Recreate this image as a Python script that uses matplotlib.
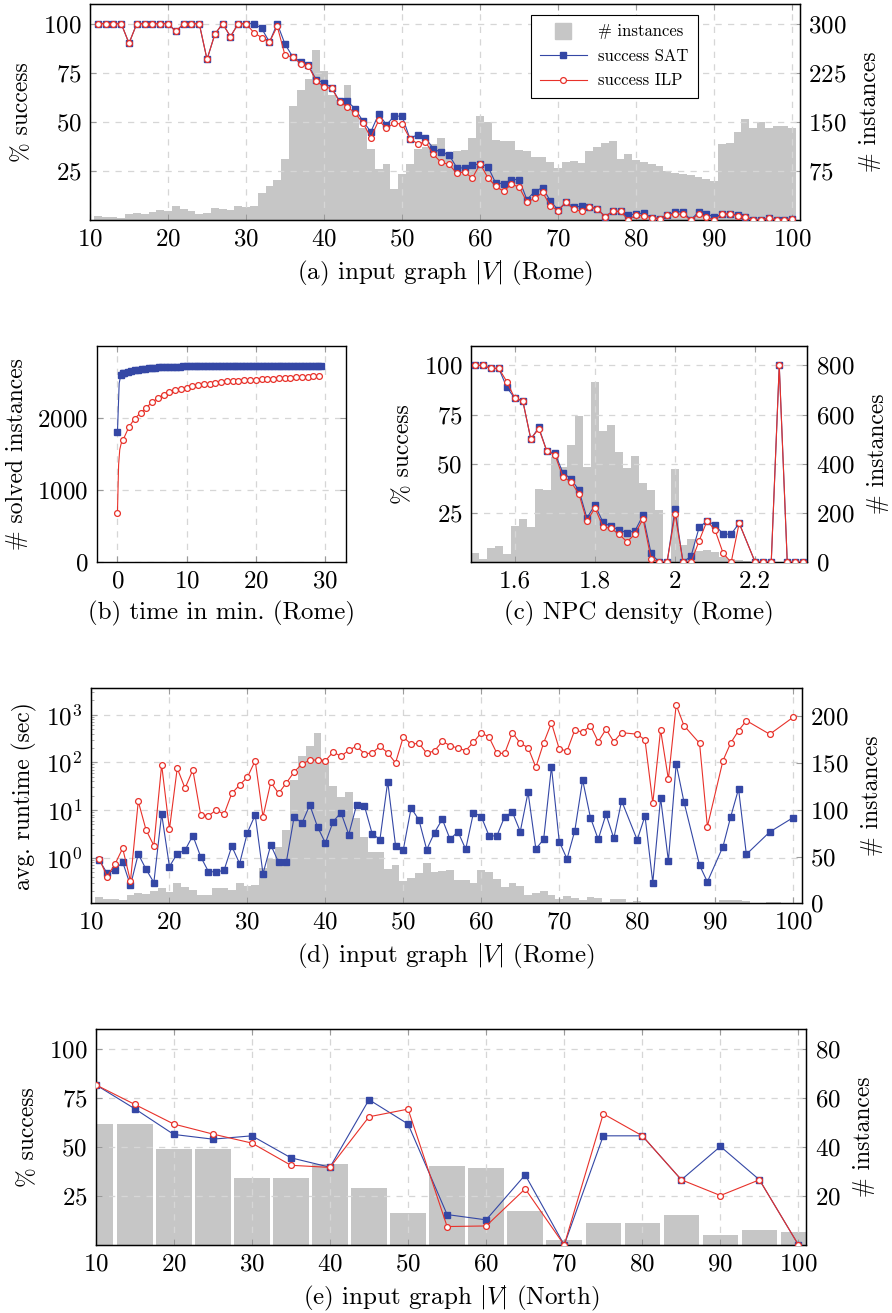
import numpy as np
import matplotlib
matplotlib.use('Agg')
import matplotlib.pyplot as plt
from matplotlib.lines import Line2D
from matplotlib.ticker import LogFormatterMathtext, LogLocator, NullFormatter

plt.rcParams['font.family'] = 'cmr10'
plt.rcParams['mathtext.fontset'] = 'cm'
plt.rcParams['axes.formatter.use_mathtext'] = True
plt.rcParams['font.size'] = 16

BLUE = '#3447a5'
RED = '#e8312a'
GREY = '#c6c6c6'
GRIDC = '#d6d6d6'
TICKFS = 18
LABFS = 17
CAPFS = 18

# ---------------- (a) success vs |V| (Rome) ----------------
a_x = list(range(11, 101))
a_sat = [100, 100, 100, 100, 90, 100, 100, 100, 100, 100,
         96, 100, 100, 100, 81.8, 94.6, 100, 93.4, 100, 100,
         100, 97.6, 90.6, 100, 89.5, 83, 80.6, 78.9, 71.3, 70,
         67.2, 60.4, 60.4, 56.6, 50.2, 44.9, 54, 48.5, 52.9, 52.9,
         41.5, 43.5, 41.8, 36.4, 34.4, 33.3, 26.7, 26.4, 27.9, 28.6,
         27.2, 18.8, 18.5, 20.6, 20.6, 10.4, 14.5, 16.5, 9.7, 5.1,
         9, 6.6, 7, 6.5, 5.8, 1.7, 4.4, 4.4, 2.4, 3.2,
         3.4, 1.2, 0.7, 2.4, 4.1, 4.3, 0, 4.1, 3.2, 1.5,
         2.9, 3.2, 2.6, 1.7, 0, 0, 1, 0, 0, 0.7]
a_ilp = [100, 100, 100, 100, 90, 100, 100, 100, 100, 100,
         96, 100, 100, 100, 81.8, 94.6, 100, 93.4, 100, 100,
         95.4, 92.9, 90.6, 98.6, 83.8, 83, 79.6, 78.2, 70.9, 67.7,
         67, 60, 57.7, 54.3, 49.3, 42, 50.7, 46.8, 49.3, 48.8,
         41.5, 38.8, 39.8, 33.5, 29.3, 28.4, 23.8, 24.5, 21.3, 28.6,
         21.5, 17.2, 14.6, 18.2, 16.8, 9.2, 11, 14.1, 7.3, 4.8,
         9, 5.4, 4.4, 6.5, 5.8, 1.7, 4.4, 4.4, 0, 2.7,
         2, 1.2, 0.7, 2.4, 2.9, 2.9, 0, 2.9, 1.5, 0,
         2.9, 3.2, 2, 1.7, 0, 0, 1, 0, 0, 0.7]
a_hist = [6.6, 4, 5, 2.5, 9.7, 11, 9, 12.8, 16, 13,
          22, 17, 14, 9, 11, 18, 17, 15, 21, 20,
          21, 42, 52, 61, 93, 174, 199, 216, 259, 227,
          191, 183, 206, 166, 140, 109, 78, 85, 48, 70,
          85, 108, 112, 116, 126, 104, 106, 107, 126, 159,
          149, 122, 120, 120, 107, 106, 97, 97, 88, 79,
          89, 90, 87, 106, 111, 117, 120, 93, 101, 92,
          88, 86, 82, 75, 72, 70, 69, 66, 63, 59,
          116, 118, 135, 154, 141, 149, 140, 143, 144, 140]

# ---------------- (b) solved instances over time ----------------
b_sat_sec = [0, 15, 30, 45] + list(range(60, 1771, 30))
b_sat = [1800, 2480, 2600, 2615, 2625, 2640, 2652, 2662, 2670, 2677,
         2683, 2688, 2692, 2696, 2699, 2702, 2704, 2706, 2708, 2710,
         2711, 2712, 2713, 2714, 2714, 2715, 2715, 2716, 2716, 2717,
         2717, 2718, 2718, 2718, 2719, 2719, 2719, 2720, 2720, 2720,
         2721, 2721, 2721, 2721, 2722, 2722, 2722, 2722, 2723, 2723,
         2723, 2723, 2723, 2724, 2724, 2724, 2724, 2724, 2725, 2725,
         2725, 2725]
b_ilp_sec = [0, 10, 20, 30, 40, 50] + list(range(100, 1751, 50))
b_ilp = [687, 1350, 1560, 1630, 1680, 1700, 1876, 1991, 2069, 2143,
         2217, 2276, 2323, 2355, 2382, 2401, 2419, 2438, 2452, 2465,
         2475, 2488, 2498, 2507, 2512, 2516, 2521, 2525, 2530, 2535,
         2539, 2544, 2548, 2553, 2558, 2562, 2567, 2571, 2576, 2585]

# ---------------- (c) NPC density ----------------
c_x = [1.50, 1.52, 1.54, 1.56, 1.58, 1.60, 1.62, 1.64, 1.66, 1.68,
       1.70, 1.72, 1.74, 1.76, 1.78, 1.80, 1.82, 1.84, 1.86, 1.88,
       1.90, 1.92, 1.94, 1.96, 1.98, 2.00, 2.02, 2.04, 2.06, 2.08,
       2.10, 2.12, 2.14, 2.16, 2.20, 2.22, 2.24, 2.26, 2.28, 2.30, 2.32]
c_sat = [100, 100, 98.5, 98.5, 88.9, 83.3, 82, 62.5, 68.5, 56.4,
         55.5, 45.5, 42.4, 36.6, 22.5, 29.1, 20.4, 18.2, 16.5, 15,
         16, 23.9, 4.6, 0, 0, 26.9, 0, 3.2, 17.7, 21,
         18.9, 14.3, 14.3, 19.9, 0, 0, 0, 100, 0, 0, 0]
c_ilp = [100, 100, 98.5, 98.5, 91.8, 83.3, 82, 62.7, 67.8, 56.4,
         54.7, 43.4, 40.9, 34.8, 20.8, 27.6, 18.1, 17.2, 14.3, 10.4,
         14.3, 22.1, 1.9, 0, 0, 24.5, 0, 0, 10.9, 21.1,
         16.2, 4.6, 0, 19.9, 0, 0, 0, 100, 0, 0, 0]
c_hist_x = [1.50, 1.52, 1.54, 1.56, 1.58, 1.60, 1.62, 1.64, 1.66, 1.68,
            1.70, 1.72, 1.74, 1.76, 1.78, 1.80, 1.82, 1.84, 1.86, 1.88,
            1.90, 1.92, 1.94, 1.96, 1.98, 2.00, 2.02, 2.04, 2.06, 2.08,
            2.10, 2.12, 2.14, 2.16, 2.18, 2.20]
c_hist = [38, 12, 59, 65, 35, 147, 174, 144, 297, 293,
          428, 386, 477, 594, 388, 731, 532, 557, 448, 383,
          432, 322, 294, 211, 0, 379, 72, 94, 45, 48,
          40, 23, 15, 11, 4, 2]

# ---------------- (d) avg. runtime ----------------
d_x = list(range(11, 79)) + [80, 81, 82, 83, 84, 85, 86, 88, 89, 91, 92, 93, 94, 97, 100]
d_sat = [0.89, 0.47, 0.55, 0.81, 0.26, 1.19, 0.57, 0.30, 8.24, 0.65,
         1.21, 1.43, 2.9, 1.05, 0.51, 0.50, 0.54, 1.73, 0.75, 3.35,
         7.85, 0.46, 1.84, 0.80, 0.82, 7.25, 5.25, 12.7, 4.4, 2.03,
         5.69, 8.8, 3.04, 12.7, 12.3, 3.19, 2.39, 39.3, 1.79, 1.47,
         11, 6.17, 1.47, 3.35, 6.4, 2.42, 3.51, 1.5, 8.8, 7.25,
         2.85, 2.85, 7.25, 8.93, 3.51, 23.5, 1.52, 2.42, 79.8, 2.17,
         0.94, 3.69, 42.6, 6.9, 2.42, 8.11, 2.54, 15.5,
         2.35, 7.48, 0.30, 17.9, 0.85, 92.3, 14.7, 0.69, 0.31, 1.7,
         7.25, 27.6, 1.17, 3.45, 6.9]
d_ilp = [0.94, 0.40, 0.72, 1.57, 0.32, 15.2, 3.8, 1.79, 88, 3.9,
         75, 28.5, 69, 8, 7.5, 10, 8.1, 22.3, 33.4, 48.5,
         108, 7.2, 38, 22.3, 36.9, 62.7, 92.3, 110, 112, 107,
         165, 133, 179, 217, 152, 155, 217, 157, 97, 340,
         238, 251, 155, 173, 275, 224, 197, 176, 263, 419,
         334, 154, 154, 419, 250, 203, 78.6, 255, 668, 190,
         173, 477, 426, 588, 271, 492, 271, 419,
         387, 294, 14, 477, 44, 1596, 588, 250, 4.47, 108,
         255, 461, 748, 387, 879]
d_hist_x = list(range(11, 101))
d_hist = [6.8, 4.3, 5, 3.6, 9, 10.7, 9.6, 13.2, 16.8, 12,
          21.8, 17.9, 14.3, 9, 9, 16.8, 16.8, 14.3, 21.4, 19,
          20, 38, 47.5, 60.7, 77.9, 132, 158, 168.6, 182, 154,
          125, 113.6, 119, 91.4, 70.7, 54.6, 54.6, 36.4, 41, 24,
          27, 32.9, 43.2, 34, 34.6, 35.5, 25, 25, 21.4, 35.7,
          34, 25.7, 17.9, 21.4, 18.6, 9, 10.7, 13.2, 9, 4.6,
          7.9, 5.4, 3.6, 6.4, 5.4, 1.8, 5, 5, 1, 2.5,
          1.8, 1, 1, 1.4, 1.4, 1.4, 1, 1, 1, 1.8,
          3.9, 3.9, 3.6, 2.9, 0.7, 0.7, 1.8, 1.4, 0.7, 0.7]

# ---------------- (e) success vs |V| (North) ----------------
e_x = [10, 15, 20, 25, 30, 35, 40, 45, 50, 55, 60, 65, 70, 75, 80, 85, 90, 95, 100]
e_sat = [81.6, 69.4, 56.3, 53.9, 55.6, 44.4, 39.6, 74, 61.6, 15.5,
         12.8, 35.7, 0, 55.6, 55.6, 33.2, 50.2, 33.2, 0]
e_ilp = [81.6, 71.6, 61.6, 56.5, 51.9, 40.6, 39.5, 65.3, 69.2, 9.4,
         9.7, 28.6, 0, 66.8, 55.6, 33.2, 25.2, 33.2, 0]
e_hist = [49.1, 49.1, 39.2, 39.2, 27.1, 27.1, 33.1, 23.1, 13.2, 32.1,
          31.2, 14, 2, 9.1, 9.1, 12.1, 4.1, 6.1, 5.2]

W, H = 892, 1313
fig = plt.figure(figsize=(W / 100, H / 100), dpi=100)


def px_axes(l, t, r, b):
    return fig.add_axes([l / W, 1 - b / H, (r - l) / W, (b - t) / H])


def style(ax, right=True):
    ax.tick_params(direction='in', length=4, width=0.8, color='#9a9a9a', top=True,
                   right=right, pad=6, labelsize=TICKFS)
    ax.tick_params(which='minor', direction='in', length=2, width=0.6, color='#9a9a9a')
    ax.grid(True, ls=(0, (5, 5)), color=GRIDC, lw=0.9)
    ax.set_axisbelow(True)
    for s in ax.spines.values():
        s.set_linewidth(1.0)


def twin(ax):
    ax2 = ax.twinx()
    ax.set_zorder(ax2.get_zorder() + 1)
    ax.patch.set_visible(False)
    ax2.tick_params(direction='in', length=4, width=0.8, color='#9a9a9a', pad=6, labelsize=TICKFS)
    return ax2


def lines(ax, x, sat, ilp):
    ax.plot(x, sat, color=BLUE, lw=0.8, marker='s', ms=4.3, mec=BLUE, mfc=BLUE, zorder=3)
    ax.plot(x, ilp, color=RED, lw=0.8, marker='o', ms=4.2, mec=RED, mfc='white', mew=0.9, zorder=4)


def labels(ax, ax2, yl, cap, yr='# instances'):
    ax.set_ylabel(yl, fontsize=LABFS, labelpad=7)
    if ax2 is not None:
        ax2.set_ylabel(yr, fontsize=LABFS, labelpad=9)
    ax.set_xlabel(cap, fontsize=CAPFS, labelpad=6)


# (a)
ax = px_axes(90, 4, 800, 220)
style(ax, right=False)
ax2 = twin(ax)
ax2.bar(a_x, a_hist, width=1.0, color=GREY, linewidth=0)
lines(ax, a_x, a_sat, a_ilp)
ax.set_xlim(10, 101)
ax.set_ylim(0, 110)
ax2.set_ylim(0, 330)
ax.set_xticks(range(10, 101, 10))
ax.set_yticks([25, 50, 75, 100])
ax2.set_yticks([75, 150, 225, 300])
labels(ax, ax2, '% success', '(a) input graph $|V|$ (Rome)')
handles = [Line2D([], [], marker='s', ls='none', color=GREY, ms=11),
           Line2D([], [], color=BLUE, lw=0.8, marker='s', ms=4.3),
           Line2D([], [], color=RED, lw=0.8, marker='o', ms=4.2, mfc='white', mew=0.9)]
leg = ax.legend(handles, ['# instances', 'success SAT', 'success ILP'], loc='upper left',
                bbox_to_anchor=(530.7 / W, 1 - 15 / H), bbox_transform=fig.transFigure,
                borderaxespad=0, fontsize=12, fancybox=False, framealpha=1,
                edgecolor='black', handlelength=2.8, labelspacing=0.55, borderpad=0.55,
                handletextpad=0.7)
leg.get_frame().set_linewidth(0.8)

# (b)
ax = px_axes(96.7, 345.7, 345.7, 562.3)
style(ax)
ax.plot(np.array(b_sat_sec) / 60, b_sat, color=BLUE, lw=0.8, marker='s', ms=4.5,
        markevery=[0] + list(range(2, len(b_sat))), zorder=3)
ax.plot(np.array(b_ilp_sec) / 60, b_ilp, color=RED, lw=0.8, marker='o', ms=4.2, mfc='white',
        mew=0.9, markevery=[0] + list(range(5, len(b_ilp))), zorder=4)
ax.set_xlim(-3, 33)
ax.set_ylim(0, 3000)
ax.set_xticks([0, 10, 20, 30])
ax.set_yticks([0, 1000, 2000])
labels(ax, None, '# solved instances', '(b) time in min. (Rome)')

# (c)
ax = px_axes(470.7, 345.7, 807.3, 562.3)
style(ax, right=False)
ax2 = twin(ax)
ax2.bar(c_hist_x, c_hist, width=0.02, color=GREY, linewidth=0)
lines(ax, c_x, c_sat, c_ilp)
ax.set_xlim(1.49, 2.33)
ax.set_ylim(0, 110)
ax2.set_ylim(0, 880)
ax.set_xticks([1.6, 1.8, 2.0, 2.2])
ax.set_xticklabels(['1.6', '1.8', '2', '2.2'])
ax.set_yticks([25, 50, 75, 100])
ax2.set_yticks([0, 200, 400, 600, 800])
labels(ax, ax2, '% success', '(c) NPC density (Rome)')

# (d)
ax = px_axes(90.7, 688.3, 801.7, 903.3)
style(ax, right=False)
ax2 = twin(ax)
ax2.bar(d_hist_x, d_hist, width=1.0, color=GREY, linewidth=0)
lines(ax, d_x, d_sat, d_ilp)
ax.set_yscale('log')
ax.set_xlim(9.9, 101.1)
ax.set_ylim(0.11, 3560)
ax.yaxis.set_major_locator(LogLocator(base=10, numticks=10))
ax.yaxis.set_major_formatter(LogFormatterMathtext())
ax.yaxis.set_minor_locator(LogLocator(base=10, subs=np.arange(2, 10), numticks=20))
ax.yaxis.set_minor_formatter(NullFormatter())
ax.set_xticks(range(10, 101, 10))
ax2.set_ylim(0, 230)
ax2.set_yticks([0, 50, 100, 150, 200])
labels(ax, ax2, 'avg. runtime (sec)', '(d) input graph $|V|$ (Rome)')

# (e)
ax = px_axes(95.7, 1029, 806.3, 1245)
style(ax, right=False)
ax2 = twin(ax)
ax2.bar(e_x, e_hist, width=4.55, color=GREY, linewidth=0)
lines(ax, e_x, e_sat, e_ilp)
ax.set_xlim(10, 101)
ax.set_ylim(0, 110)
ax2.set_ylim(0, 88)
ax.set_xticks(range(10, 101, 10))
ax.set_yticks([25, 50, 75, 100])
ax2.set_yticks([20, 40, 60, 80])
labels(ax, ax2, '% success', '(e) input graph $|V|$ (North)')

fig.savefig('out.png', dpi=100)
